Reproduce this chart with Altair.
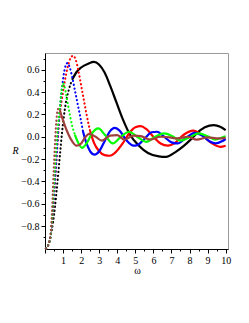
import altair as alt
import pandas as pd

# ---- data ----
SERIES = ["black", "red", "blue", "green", "brown"]

W_BLACK = [0.05, 0.2, 0.3, 0.45, 0.55, 0.65, 0.75, 0.85, 0.95, 1.05, 1.15, 1.3, 1.5, 1.75, 2.0, 2.4, 2.7,
           3.0, 3.3, 3.6, 3.95, 4.3, 4.7, 5.2, 5.7, 6.3, 6.7, 7.2, 7.7, 8.1, 8.6, 9.1, 9.35, 9.7, 10.0]
R_BLACK = [-1.0, -0.96, -0.9, -0.76, -0.63, -0.47, -0.3, -0.12, 0.05, 0.19, 0.3, 0.41, 0.51, 0.58, 0.62, 0.655, 0.67,
           0.645, 0.575, 0.46, 0.31, 0.16, 0.02, -0.08, -0.145, -0.175, -0.18, -0.14, -0.08, -0.02, 0.06, 0.1, 0.105, 0.09, 0.06]

W_RED = [0.05, 0.2, 0.3, 0.42, 0.52, 0.62, 0.72, 0.82, 0.95, 1.1, 1.25, 1.4, 1.56, 1.7, 1.85, 2.0, 2.15, 2.3, 2.5,
         2.7, 3.0, 3.3, 3.6, 3.9, 4.3, 4.7, 5.0, 5.3, 5.6, 6.0, 6.4, 6.8, 7.2, 7.7, 8.2, 8.7, 9.2, 9.7, 10.0]
R_RED = [-1.0, -0.96, -0.9, -0.72, -0.5, -0.25, 0.0, 0.2, 0.35, 0.5, 0.62, 0.7, 0.725, 0.69, 0.59, 0.46, 0.33, 0.2, 0.05,
         -0.05, -0.13, -0.165, -0.17, -0.14, -0.06, 0.04, 0.085, 0.095, 0.07, 0.0, -0.06, -0.08, -0.055, 0.02, 0.055, 0.015,
         -0.055, -0.09, -0.08]

W_BLUE = [0.05, 0.2, 0.3, 0.4, 0.5, 0.58, 0.66, 0.75, 0.85, 0.95, 1.05, 1.15, 1.25, 1.35, 1.5, 1.65, 1.8, 1.95, 2.1,
          2.3, 2.5, 2.75, 3.0, 3.3, 3.6, 3.85, 4.1, 4.5, 4.9, 5.1, 5.5, 5.9, 6.2, 6.6, 7.0, 7.35, 7.8, 8.3, 8.7, 9.1,
          9.45, 9.8, 10.0]
R_BLUE = [-1.0, -0.96, -0.9, -0.74, -0.52, -0.32, -0.12, 0.1, 0.3, 0.45, 0.57, 0.64, 0.66, 0.63, 0.54, 0.42, 0.3, 0.18,
          0.05, -0.06, -0.13, -0.16, -0.13, -0.04, 0.05, 0.08, 0.06, -0.03, -0.08, -0.075, -0.02, 0.04, 0.045, 0.0,
          -0.05, -0.06, -0.01, 0.035, 0.01, -0.04, -0.06, -0.04, -0.02]

W_GREEN = [0.05, 0.2, 0.3, 0.4, 0.47, 0.54, 0.62, 0.72, 0.82, 0.92, 1.0, 1.08, 1.2, 1.35, 1.5, 1.65, 1.8, 2.05, 2.3,
           2.6, 2.95, 3.3, 3.75, 4.2, 4.65, 5.1, 5.6, 6.1, 6.6, 7.1, 7.5, 8.0, 8.5, 9.0, 9.4, 9.9, 10.0]
R_GREEN = [-1.0, -0.96, -0.9, -0.72, -0.52, -0.32, -0.1, 0.1, 0.26, 0.41, 0.48, 0.45, 0.35, 0.22, 0.1, 0.02, -0.04,
           -0.1, -0.06, 0.03, 0.075, 0.02, -0.06, 0.0, 0.045, 0.0, -0.045, 0.0, 0.03, 0.0, -0.035, -0.005, 0.03, 0.005,
           -0.025, 0.0, 0.005]

W_BROWN = [0.05, 0.2, 0.3, 0.38, 0.43, 0.48, 0.54, 0.6, 0.66, 0.73, 0.82, 0.95, 1.1, 1.3, 1.5, 1.75, 2.0, 2.2, 2.45,
           2.8, 3.15, 3.6, 4.0, 4.4, 4.9, 5.3, 5.8, 6.4, 6.9, 7.3, 7.9, 8.4, 9.0, 9.6, 10.0]
R_BROWN = [-1.0, -0.96, -0.88, -0.7, -0.5, -0.3, -0.1, 0.08, 0.2, 0.25, 0.24, 0.17, 0.1, 0.02, -0.04, -0.08, -0.06,
           -0.01, 0.025, 0.0, -0.035, 0.01, 0.015, -0.025, 0.01, 0.005, -0.025, 0.0, -0.005, -0.015, 0.0, -0.025,
           -0.005, -0.015, -0.01]

X_TICKS = [i * 0.5 for i in range(0, 21)]
Y_TICKS = [round(-0.9 + 0.1 * i, 1) for i in range(17)]

# ---- styling (not data) ----
COLORS = {"black": "#000000", "red": "#ff0000", "blue": "#0000ff", "green": "#00ff00", "brown": "#a0403c"}
DOT_END = {"black": 1.5, "red": 2.5, "blue": 2.1, "green": 1.65, "brown": 0.82}

data = {"black": (W_BLACK, R_BLACK), "red": (W_RED, R_RED), "blue": (W_BLUE, R_BLUE),
        "green": (W_GREEN, R_GREEN), "brown": (W_BROWN, R_BROWN)}

rows = []
for s in SERIES:
    ws, rs = data[s]
    for w, r in zip(ws, rs):
        rows.append({"series": s, "w": w, "R": r})
df = pd.DataFrame(rows)

FONT = "Liberation Serif"

x_axis = alt.Axis(
    values=X_TICKS,
    labelExpr="datum.value % 1 === 0 && datum.value > 0 ? format(datum.value, 'd') : ''",
    tickSize={"condition": {"test": "datum.value % 1 === 0", "value": 4}, "value": 2},
    labelFont=FONT, labelFontSize=10, labelColor="black", labelPadding=2,
    domainColor="black", tickColor="black", grid=False,
    title="ω", titleFont=FONT, titleFontSize=10, titleFontWeight="normal", titleColor="black",
    titleX=92, titleY=21, titleAlign="center", titleBaseline="middle", titleAngle=0,
)
y_axis = alt.Axis(
    values=Y_TICKS,
    labelExpr="abs(round(datum.value * 10)) % 2 === 0 ? format(datum.value, '.1f') : ''",
    tickSize={"condition": {"test": "abs(round(datum.value * 10)) % 2 === 0", "value": 4}, "value": 2},
    labelFont=FONT, labelFontSize=10, labelColor="black", labelPadding=2,
    domainColor="black", tickColor="black", grid=False,
    title="R", titleFont=FONT, titleFontSize=10, titleFontWeight="normal", titleFontStyle="italic",
    titleColor="black", titleX=-30, titleY=97, titleAlign="center", titleBaseline="middle", titleAngle=0,
)

X = alt.X("w:Q", scale=alt.Scale(domain=[0, 10.13], nice=False, zero=False), axis=x_axis)
Y = alt.Y("R:Q", scale=alt.Scale(domain=[-1.005, 0.75], nice=False, zero=False), axis=y_axis)

base = alt.Chart(df)
layers = []
for s in SERIES:
    sub = base.transform_filter(alt.datum.series == s)
    dotted = sub.transform_filter(alt.datum.w <= DOT_END[s]).mark_line(
        color=COLORS[s], strokeWidth=2.1, strokeDash=[0.3, 3.6], strokeCap="round", interpolate="monotone"
    ).encode(x=X, y=Y, order="w:Q")
    solid = sub.transform_filter(alt.datum.w >= DOT_END[s]).mark_line(
        color=COLORS[s], strokeWidth=2.2, interpolate="monotone"
    ).encode(x=X, y=Y, order="w:Q")
    layers += [dotted, solid]

chart = alt.layer(*layers).properties(
    width=183, height=196,
    autosize=alt.AutoSizeParams(type="none"),
    padding={"left": 37, "top": 45, "right": 13, "bottom": 60},
).configure_view(stroke="#999999", strokeWidth=1)

chart.save("out.html", embed_options={"renderer": "svg", "actions": False})
